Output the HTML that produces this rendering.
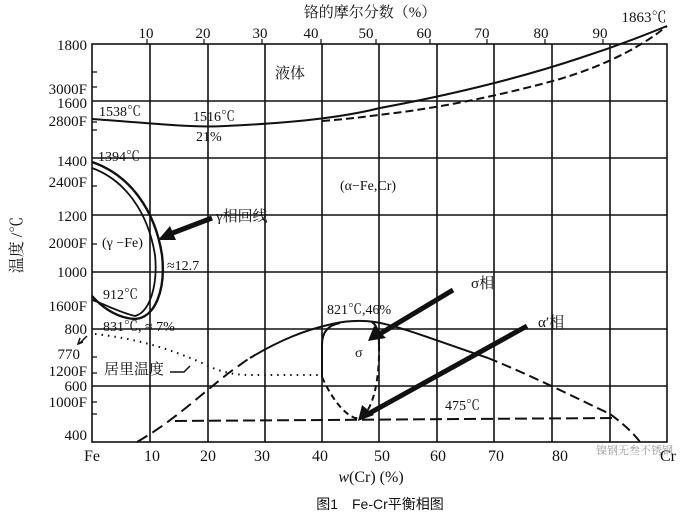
<!DOCTYPE html>
<html><head><meta charset="utf-8"><style>
body{margin:0;background:#fff;}
svg text{font-family:"Liberation Serif","Noto Serif CJK SC",serif;fill:#111;}
.cn{font-family:"Liberation Serif","Noto Serif CJK SC",serif;}
</style></head><body>
<svg width="693" height="524" viewBox="0 0 693 524" xmlns="http://www.w3.org/2000/svg">
<rect width="693" height="524" fill="#fff"/>
<g stroke="#111" stroke-width="1.6" fill="none">
<rect x="92" y="44" width="575" height="398"/>
<path d="M150 44V442M208 44V442M265 44V442M322 44V442M379 44V442M437 44V442M494 44V442M552 44V442M610 44V442"/>
<path d="M92 101H667M92 158H667M92 215H667M92 272H667M92 329H667M92 386H667"/>
</g>
<g stroke="#111" stroke-width="1.2">
<path d="M92 72h5M92 87h5M92 122h5M92 130h5M92 186h5M92 244h5M92 300h5M92 357h5M92 373h5M92 414h5M92 402h5"/>
<path d="M147 44v-5M204 44v-5M262 44v-5M321 44v-5M376 44v-5M430 44v-5M487 44v-5M545 44v-5M603 44v-5"/>
</g>
<path d="M92 119 C150 123 190 128 225 126 C290 123 340 118 380 108 C450 95 520 78 580 58 C620 45 650 33 667 26" stroke="#111" stroke-width="2" fill="none"/>
<path d="M322 121 C350 119 370 116 395 113 C450 106 510 93 560 79 C610 64 645 44 667 26" stroke="#111" stroke-width="2" fill="none" stroke-dasharray="8,4"/>
<path d="M92 162 C130 175 155 210 162 255 C166 290 155 318 135 319 C115 318 100 305 92 296" stroke="#111" stroke-width="2.4" fill="none"/>
<path d="M92 168 C125 180 148 212 155 255 C158 285 150 312 135 316 C118 312 100 302 92 300" stroke="#111" stroke-width="1.8" fill="none"/>
<path d="M95 334 C130 338 160 345 200 362 C215 370 230 375 250 375 L322 375" stroke="#111" stroke-width="2" fill="none" stroke-dasharray="1.5,5"/>
<path d="M137 442 C175 420 200 395 230 372 C240 365 245 361 250 358" stroke="#111" stroke-width="2" fill="none" stroke-dasharray="12,6"/>
<path d="M250 358 C280 340 305 330 332 324 C345 321 360 320 375 322 C400 326 440 342 488 358" stroke="#111" stroke-width="2" fill="none"/>
<path d="M488 358 C530 375 570 395 610 414 C625 425 635 435 640 442" stroke="#111" stroke-width="2" fill="none" stroke-dasharray="10,5"/>
<path d="M340 323 C330 325 322 330 322 345 L322 377" stroke="#111" stroke-width="2" fill="none"/>
<path d="M322 377 C330 395 342 413 355 418 C372 420 380 380 379 345" stroke="#111" stroke-width="2" fill="none" stroke-dasharray="6,4"/>
<path d="M379 345 C379 335 378 326 372 322" stroke="#111" stroke-width="2" fill="none"/>
<path d="M175 421 L612 418" stroke="#111" stroke-width="2" fill="none" stroke-dasharray="12,5"/>
<g stroke="#111" stroke-width="5" fill="#111">
<path d="M212 218 L170 234"/>
<path d="M453 290 L378 335"/>
<path d="M527 326 L368 414"/>
</g>
<polygon points="158,240 170,226 176,240" fill="#111"/>
<polygon points="368,341 374,326 386,338" fill="#111"/>
<polygon points="358,421 362,405 374,415" fill="#111"/>
<path d="M87 336 l-8 8 M80 338 l-2 6 5-2" stroke="#111" stroke-width="1.5" fill="none"/>
<path d="M170 372 L184 372 L190 366" stroke="#111" stroke-width="1.5" fill="none"/>
<g font-size="15" text-anchor="end">
<text x="87" y="50">1800</text>
<text x="87" y="94">3000F</text>
<text x="87" y="108">1600</text>
<text x="87" y="126">2800F</text>
<text x="87" y="166">1400</text>
<text x="87" y="187">2400F</text>
<text x="87" y="221">1200</text>
<text x="87" y="248">2000F</text>
<text x="87" y="277">1000</text>
<text x="87" y="311">1600F</text>
<text x="87" y="334">800</text>
<text x="80" y="359">770</text>
<text x="87" y="376">1200F</text>
<text x="87" y="391">600</text>
<text x="87" y="407">1000F</text>
<text x="87" y="440">400</text>
</g>
<text x="22" y="245" font-size="16" transform="rotate(-90 22 245)" text-anchor="middle" class="cn">温度 /℃</text>
<g font-size="15" text-anchor="middle">
<text x="146" y="38">10</text><text x="203" y="38">20</text><text x="260" y="38">30</text><text x="311" y="38">40</text>
<text x="366" y="38">50</text><text x="424" y="38">60</text><text x="482" y="38">70</text><text x="541" y="38">80</text><text x="600" y="38">90</text>
<text x="370" y="17" class="cn">铬的摩尔分数（%）</text>
<text x="644" y="22">1863℃</text>
</g>
<g font-size="16" text-anchor="middle">
<text x="92" y="461">Fe</text><text x="152" y="461">10</text><text x="208" y="461">20</text><text x="262" y="461">30</text><text x="320" y="461">40</text>
<text x="382" y="461">50</text><text x="438" y="461">60</text><text x="496" y="461">70</text><text x="560" y="461">80</text><text x="668" y="461">Cr</text>
<text x="371" y="482"><tspan font-style="italic">w</tspan>(Cr) (%)</text>
</g>
<text x="380" y="509" font-size="14" text-anchor="middle" style="font-family:'Liberation Sans','Noto Sans CJK SC',sans-serif">图1　Fe-Cr平衡相图</text>
<g font-size="14">
<text x="99" y="116">1538℃</text>
<text x="193" y="121">1516℃</text>
<text x="196" y="141">21%</text>
<text x="275" y="78" font-size="15" class="cn">液体</text>
<text x="98" y="161">1394℃</text>
<text x="340" y="190">(α−Fe,Cr)</text>
<text x="216" y="221" class="cn" font-size="15">γ相回线</text>
<text x="102" y="247">(γ −Fe)</text>
<text x="167" y="270">≈12.7</text>
<text x="103" y="299">912℃</text>
<text x="103" y="331">831℃, ≈ 7%</text>
<text x="104" y="374" class="cn" font-size="15">居里温度</text>
<text x="327" y="314">821℃,46%</text>
<text x="355" y="357">σ</text>
<text x="471" y="288" class="cn" font-size="15">σ相</text>
<text x="538" y="327" class="cn" font-size="15">α′相</text>
<text x="445" y="410">475℃</text>
</g>
<text x="596" y="454" font-size="11" style="fill:#999" class="cn">镍钢无叁不锈钢</text>
</svg>
</body></html>
